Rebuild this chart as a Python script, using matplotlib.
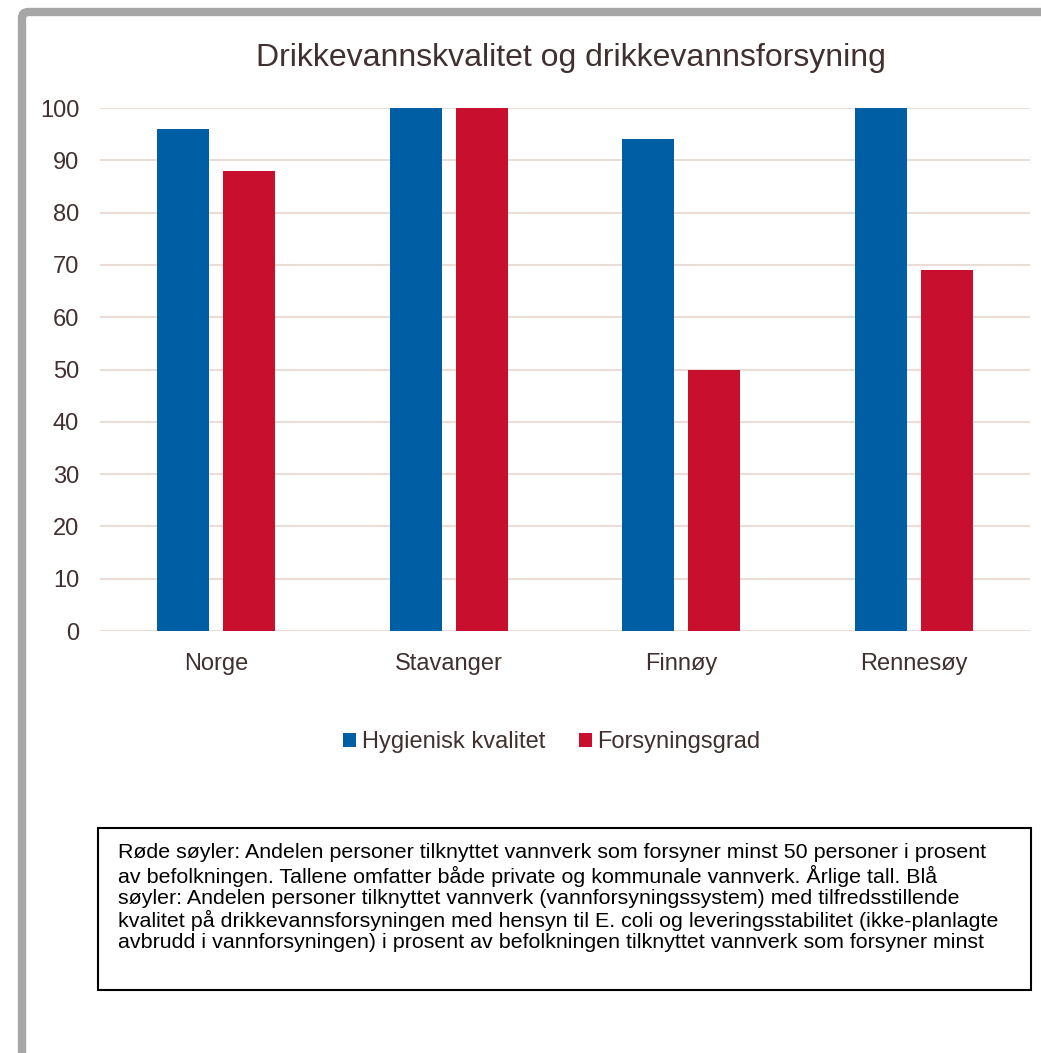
import matplotlib.pyplot as plt
import numpy as np
from matplotlib.patches import FancyBboxPatch, Rectangle

steder = ["Norge", "Stavanger", "Finnøy", "Rennesøy"]
hygienisk = [96, 100, 94, 100]
forsyning = [88, 100, 50, 69]

blaa = "#005EA4"
roed = "#C8102E"
tekst = "#403030"

merknad = ("Røde søyler: Andelen personer tilknyttet vannverk som forsyner minst 50 personer i prosent\n"
           "av befolkningen. Tallene omfatter både private og kommunale vannverk. Årlige tall. Blå\n"
           "søyler: Andelen personer tilknyttet vannverk (vannforsyningssystem) med tilfredsstillende\n"
           "kvalitet på drikkevannsforsyningen med hensyn til E. coli og leveringsstabilitet (ikke-planlagte\n"
           "avbrudd i vannforsyningen) i prosent av befolkningen tilknyttet vannverk som forsyner minst")

plt.rcParams["font.family"] = ["Liberation Sans", "DejaVu Sans"]

W, H = 1041, 1053
fig = plt.figure(figsize=(W / 100, H / 100), dpi=100)

# grey frame round the whole chart, running off the right and bottom edge
ramme = FancyBboxPatch((22 / W, -0.05), 1.1, 1 - 12 / H + 0.05,
                       boxstyle="round,pad=0,rounding_size=0.006",
                       transform=fig.transFigure, fill=False,
                       edgecolor="#A6A6A6", linewidth=6)
fig.patches.append(ramme)

ax = fig.add_axes([100 / W, 1 - 631 / H, 930 / W, 523 / H])
x = np.arange(len(steder))
b = 0.224
gap = 0.06
ax.bar(x - (b + gap) / 2, hygienisk, b, color=blaa, label="Hygienisk kvalitet", zorder=3)
ax.bar(x + (b + gap) / 2, forsyning, b, color=roed, label="Forsyningsgrad", zorder=3)

ax.set_xlim(-0.5, len(steder) - 0.5)
ax.set_ylim(0, 100)
ax.set_yticks(range(0, 101, 10))
ax.set_xticks(x)
ax.set_xticklabels(steder)
ax.yaxis.grid(True, color="#EADDD5", linewidth=1.5, zorder=0)
for s in ax.spines.values():
    s.set_visible(False)
ax.tick_params(length=0, labelsize=17, colors=tekst)
ax.tick_params(axis="y", pad=15)
ax.tick_params(axis="x", pad=16)

fig.text(571 / W, 1 - 58 / H, "Drikkevannskvalitet og drikkevannsforsyning",
         ha="center", va="center", fontsize=23, color=tekst)

leg = ax.legend(loc="center", bbox_to_anchor=(552 / W, 1 - 742 / H),
                bbox_transform=fig.transFigure, ncol=2, frameon=False,
                fontsize=17, handlelength=0.55, handleheight=0.55,
                handletextpad=0.25, columnspacing=1.4)
for t in leg.get_texts():
    t.set_color(tekst)

boks = Rectangle((98 / W, 1 - 990 / H), 933 / W, 162 / H, transform=fig.transFigure,
                 fill=False, edgecolor="black", linewidth=1.5)
fig.patches.append(boks)
fig.text(118 / W, 1 - 843 / H, merknad, ha="left", va="top", fontsize=15.4,
         color="black", linespacing=1.14)

fig.savefig("out.png", dpi=100)
